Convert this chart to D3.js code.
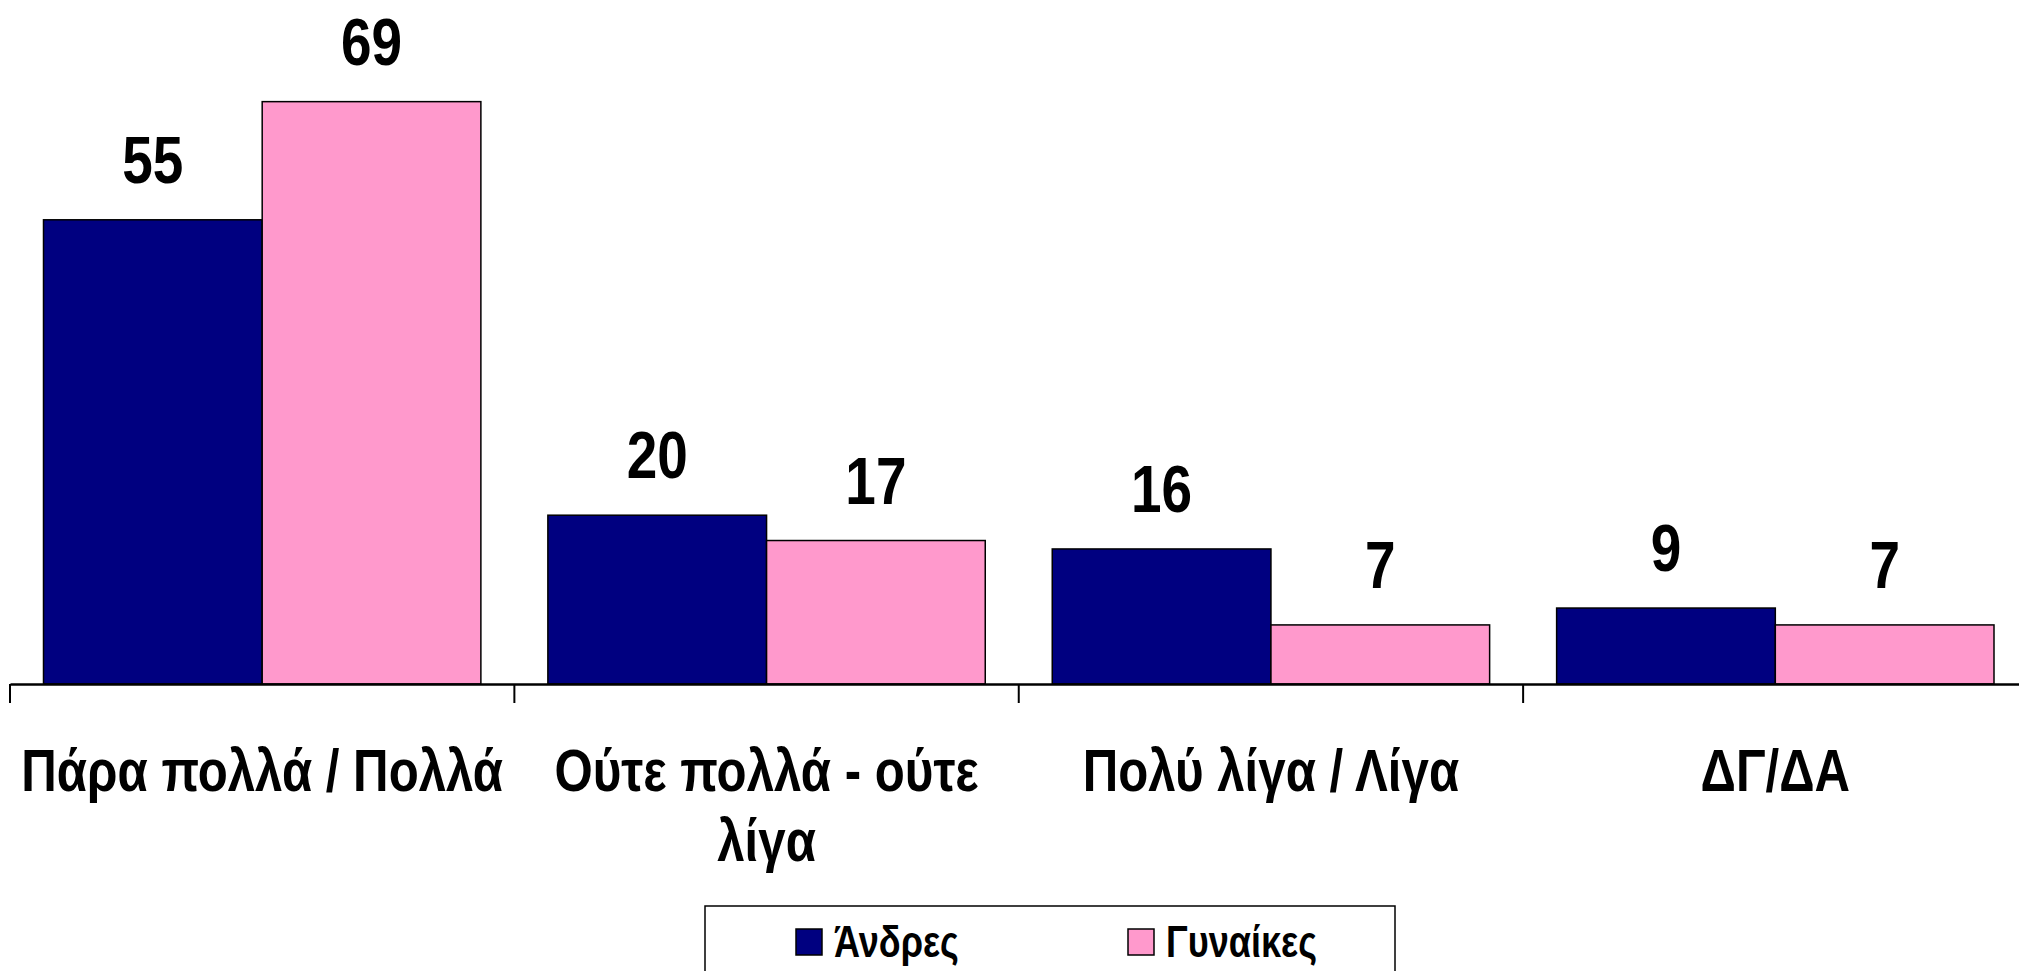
<!DOCTYPE html>
<html>
<head>
<meta charset="utf-8">
<script src="https://cdn.jsdelivr.net/npm/d3@7"></script>
<style>
  html, body { margin: 0; padding: 0; background: #fff; overflow: hidden; }
  svg { display: block; }
  text { font-family: "Liberation Sans Narrow", "Arial Narrow", "Liberation Sans", Arial, sans-serif; font-weight: bold; fill: #000; }
</style>
</head>
<body>
<svg id="chart" width="2019" height="971"></svg>
<script>
const categories = ["Πάρα πολλά / Πολλά", "Ούτε πολλά - ούτε λίγα", "Πολύ λίγα / Λίγα", "ΔΓ/ΔΑ"];
const seriesNames = ["Άνδρες", "Γυναίκες"];
const men = [55, 20, 16, 9];
const women = [69, 17, 7, 7];
const colors = ["#000080", "#FF99CC"];

const seriesValues = [men, women];
const svg = d3.select("#chart");
const narrow = 0.82; // condense Liberation Sans to mimic Arial Narrow

const axisY = 684;
const x = d3.scaleBand().domain(categories).range([10, 2027.5]).paddingInner(0).paddingOuter(0);
const x1 = d3.scaleBand().domain(seriesNames).range([33.5, x.bandwidth() - 33.5]).padding(0);
const y = d3.scaleLinear().domain([0, 80]).range([axisY, axisY - 80 * 8.44]);

// bars
seriesNames.forEach((s, si) => {
  const g = svg.append("g");
  g.selectAll("rect").data(categories).enter().append("rect")
    .attr("x", c => x(c) + x1(s))
    .attr("y", (c, i) => y(seriesValues[si][i]))
    .attr("width", x1.bandwidth())
    .attr("height", (c, i) => y(0) - y(seriesValues[si][i]))
    .attr("fill", colors[si])
    .attr("stroke", "#000")
    .attr("stroke-width", 1.5);
  g.selectAll("text").data(categories).enter().append("text")
    .attr("transform", (c, i) => `translate(${x(c) + x1(s) + x1.bandwidth() / 2},${y(seriesValues[si][i]) - 37}) scale(${narrow},1)`)
    .attr("text-anchor", "middle")
    .attr("font-size", 67)
    .text((c, i) => seriesValues[si][i]);
});

// axis
const axis = d3.axisBottom(x).tickSize(0).tickFormat("");
const ag = svg.append("g").attr("transform", `translate(0,${axisY})`).call(axis);
ag.select(".domain").attr("stroke", "#000").attr("stroke-width", 2.5);
const boundaries = categories.map(c => x(c)).concat([x.range()[1]]);
ag.selectAll(".bnd").data(boundaries).enter().append("line")
  .attr("class", "bnd")
  .attr("x1", d => d).attr("x2", d => d)
  .attr("y1", 0).attr("y2", 19)
  .attr("stroke", "#000").attr("stroke-width", 2);

// category labels with wrapping
const labelG = svg.append("g");
categories.forEach(c => {
  const t = labelG.append("text")
    .attr("transform", `translate(${x(c) + x.bandwidth() / 2},791) scale(${narrow},1)`)
    .attr("text-anchor", "middle")
    .attr("font-size", 60);
  const words = c.split(" ");
  let line = [];
  let tspan = t.append("tspan").attr("x", 0).attr("dy", 0);
  words.forEach(w => {
    line.push(w);
    tspan.text(line.join(" "));
    if (tspan.node().getComputedTextLength() * narrow > x.bandwidth() - 10 && line.length > 1) {
      line.pop();
      tspan.text(line.join(" "));
      line = [w];
      tspan = t.append("tspan").attr("x", 0).attr("dy", 70).text(w);
    }
  });
});

// legend
const lg = svg.append("g");
lg.append("rect").attr("x", 705).attr("y", 906).attr("width", 690).attr("height", 120)
  .attr("fill", "#fff").attr("stroke", "#000").attr("stroke-width", 1.5);
const legendX = [796, 1128];
seriesNames.forEach((s, i) => {
  lg.append("rect").attr("x", legendX[i]).attr("y", 929).attr("width", 26).attr("height", 26)
    .attr("fill", colors[i]).attr("stroke", "#000").attr("stroke-width", 1.5);
  lg.append("text")
    .attr("transform", `translate(${legendX[i] + 38},957) scale(${narrow},1)`)
    .attr("font-size", 44).text(s);
});
</script>
</body>
</html>
